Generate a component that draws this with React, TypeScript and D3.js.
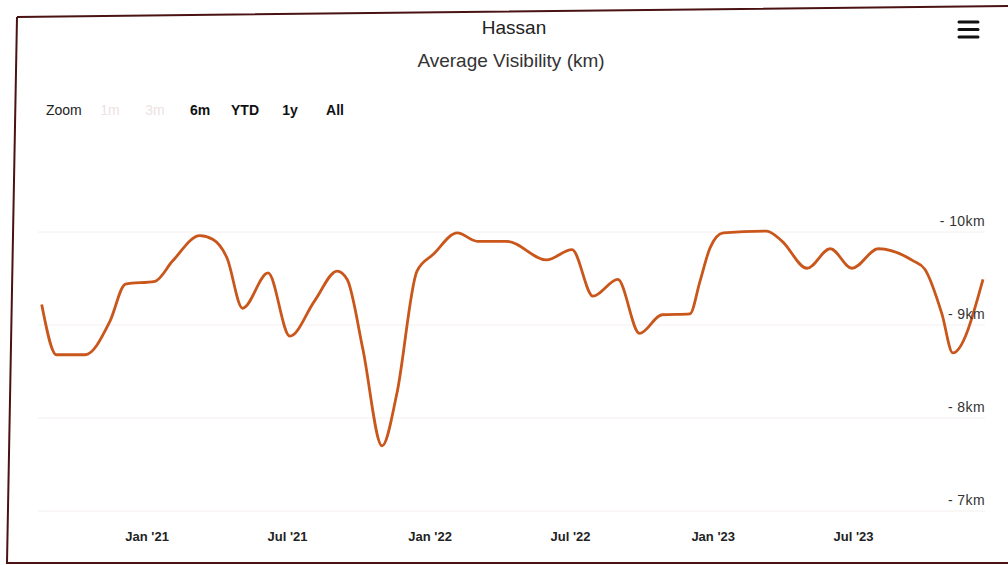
import React from "react";
import * as d3 from "d3";

// Average visibility for Hassan (km)
const dates = [
  "2020-08-18", "2020-09-06", "2020-10-13", "2020-11-14", "2020-12-04",
  "2021-01-11", "2021-02-03", "2021-03-10", "2021-03-27", "2021-04-14",
  "2021-05-04", "2021-06-06", "2021-07-04", "2021-08-05", "2021-09-03",
  "2021-09-16", "2021-10-06", "2021-10-31", "2021-11-19", "2021-12-15",
  "2022-01-05", "2022-02-05", "2022-03-03", "2022-04-10", "2022-05-31",
  "2022-07-03", "2022-07-30", "2022-08-31", "2022-09-28", "2022-10-27",
  "2022-12-02", "2022-12-15", "2022-12-28", "2023-01-14", "2023-03-11",
  "2023-03-31", "2023-05-02", "2023-06-01", "2023-06-29", "2023-08-02",
  "2023-09-16", "2023-10-01", "2023-10-23", "2023-11-06", "2023-12-15",
];
const visibility = [
  9.22, 8.68, 8.68, 9.04, 9.44,
  9.47, 9.69, 9.96, 9.92, 9.72,
  9.18, 9.56, 8.88, 9.26, 9.58,
  9.49, 8.75, 7.70, 8.26, 9.58,
  9.76, 9.99, 9.90, 9.90, 9.70,
  9.81, 9.31, 9.49, 8.91, 9.11,
  9.12, 9.47, 9.83, 9.99, 10.01,
  9.90, 9.61, 9.82, 9.61, 9.82,
  9.69, 9.60, 9.12, 8.70, 9.49,
];

const yTicks = [7, 8, 9, 10];
const xTickDates = ["2021-01-01", "2021-07-01", "2022-01-01", "2022-07-01", "2023-01-01", "2023-07-01"];
const xTickLabels = ["Jan '21", "Jul '21", "Jan '22", "Jul '22", "Jan '23", "Jul '23"];
const zoomButtons = ["1m", "3m", "6m", "YTD", "1y", "All"];
const disabledButtons = ["1m", "3m"];

const W = 1008;
const H = 565;
const FONT = "'Liberation Sans', Arial, Helvetica, sans-serif";

export default function App() {
  const parse = d3.utcParse("%Y-%m-%d");
  const points = dates.map((d, i) => ({ date: parse(d) as Date, value: visibility[i] }));

  const x = d3
    .scaleUtc()
    .domain(d3.extent(points, (p) => p.date) as [Date, Date])
    .range([41.7, 983]);
  const y = d3.scaleLinear().domain([7, 10]).range([511, 232]);

  const line = d3
    .line<{ date: Date; value: number }>()
    .x((p) => x(p.date))
    .y((p) => y(p.value))
    .curve(d3.curveMonotoneX);

  return (
    <svg
      width={W}
      height={H}
      style={{ position: "absolute", left: 0, top: 0, background: "#ffffff" }}
      fontFamily={FONT}
    >
      {/* outer frame */}
      <path d="M17,17 L1008,6 M17,17 L7,563 L1008,563" fill="none" stroke="#4a1212" strokeWidth={2} />

      {/* titles */}
      <text x={514} y={34} textAnchor="middle" fontSize={19} fill="#222">Hassan</text>
      <text x={511} y={67} textAnchor="middle" fontSize={19} fill="#333">Average Visibility (km)</text>

      {/* context menu icon */}
      {[22, 29.5, 37].map((by) => (
        <line key={by} x1={959} x2={978} y1={by} y2={by} stroke="#111" strokeWidth={3} strokeLinecap="round" />
      ))}

      {/* range selector */}
      <text x={46} y={115} fontSize={14} fill="#222">Zoom</text>
      {zoomButtons.map((b, i) => (
        <text
          key={b}
          x={110 + i * 45}
          y={115}
          textAnchor="middle"
          fontSize={14}
          fontWeight={disabledButtons.includes(b) ? 400 : 700}
          fill={disabledButtons.includes(b) ? "#eee2e2" : "#111"}
        >
          {b}
        </text>
      ))}

      {/* grid */}
      {yTicks.map((t) => (
        <line key={t} x1={38} x2={985} y1={y(t)} y2={y(t)} stroke="#f5eeee" strokeWidth={1} />
      ))}

      {/* series */}
      <path d={line(points) ?? ""} fill="none" stroke="#c9561b" strokeWidth={2.8} strokeLinejoin="round" />

      {/* y axis labels */}
      {yTicks.map((t) => (
        <text key={t} x={985} y={y(t) - 6} textAnchor="end" fontSize={14} letterSpacing={0.4} fill="#333">
          {`- ${t}km`}
        </text>
      ))}

      {/* x axis labels */}
      {xTickDates.map((d, i) => (
        <text
          key={d}
          x={x(parse(d) as Date)}
          y={541}
          textAnchor="middle"
          fontSize={13}
          fontWeight={700}
          fill="#222"
        >
          {xTickLabels[i]}
        </text>
      ))}
    </svg>
  );
}
